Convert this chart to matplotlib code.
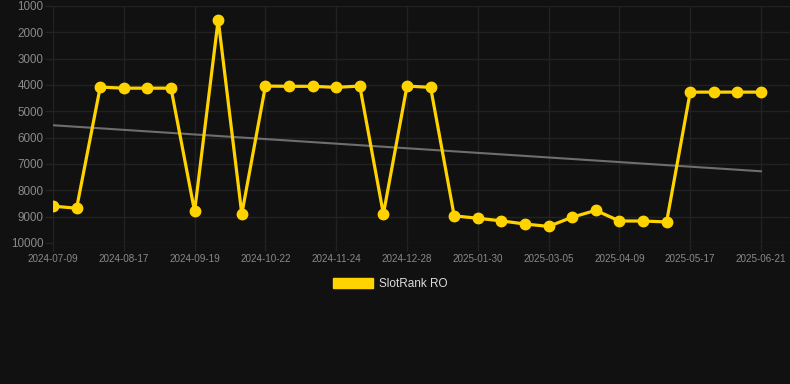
import numpy as np
import matplotlib
matplotlib.use("Agg")
import matplotlib.pyplot as plt
from matplotlib.patches import Patch

tick_labels = ["2024-07-09", "2024-08-17", "2024-09-19", "2024-10-22", "2024-11-24",
               "2024-12-28", "2025-01-30", "2025-03-05", "2025-04-09", "2025-05-17",
               "2025-06-21"]
ranks = [8600, 8680, 4080, 4120, 4120, 4120, 8800, 1520, 8900, 4040,
         4050, 4050, 4090, 4040, 8900, 4040, 4090, 8970, 9060, 9160,
         9280, 9370, 9020, 8760, 9165, 9165, 9200, 4270, 4270, 4270, 4270]
series_name = "SlotRank RO"
yticks = [1000, 2000, 3000, 4000, 5000, 6000, 7000, 8000, 9000, 10000]

plt.rcParams['font.family'] = ['Liberation Sans', 'DejaVu Sans']

BG = "#111111"
GRID = "#222222"
GOLD = "#FFD300"

W, H = 790, 384
fig = plt.figure(figsize=(W / 100, H / 100), dpi=100, facecolor=BG)
ax = fig.add_axes([53 / W, 1 - 243 / H, (790 - 53) / W, (243 - 6) / H])
ax.set_facecolor(BG)

x = np.arange(len(ranks))
coef = np.polyfit(x, ranks, 1)
ax.plot(x, np.polyval(coef, x), color="#6e6e6e", lw=1.5, zorder=2)
ax.plot(x, ranks, color=GOLD, lw=2.3, marker="o", ms=7.5,
        solid_joinstyle="miter", zorder=3)

n = len(ranks) - 1
ax.set_xlim(0, n * (790 - 53) / (761 - 53))
ax.set_ylim(10000, 1000)
ax.set_yticks(yticks)
ax.set_yticklabels([str(v) for v in yticks])
ax.set_xticks(x[::3])
ax.set_xticklabels(tick_labels)

ax.grid(True, color=GRID, lw=1.0)
ax.set_axisbelow(True)
for s in ax.spines.values():
    s.set_visible(False)
ax.tick_params(axis="y", length=5.5, width=1.0, color=GRID, pad=1.5,
               labelsize=8.4, labelcolor="#8a8a8a")
ax.tick_params(axis="x", length=6, width=1.0, color=GRID, pad=2,
               labelsize=7.1, labelcolor="#8a8a8a")

fig.legend(handles=[Patch(facecolor=GOLD, edgecolor=GOLD, label=series_name)],
           loc="center", bbox_to_anchor=(390 / W, 1 - 284 / H), frameon=False,
           fontsize=8.5, labelcolor="#dddddd", handlelength=3.4, handleheight=1.0,
           handletextpad=0.5)

fig.savefig("out.png", dpi=100, facecolor=BG)
